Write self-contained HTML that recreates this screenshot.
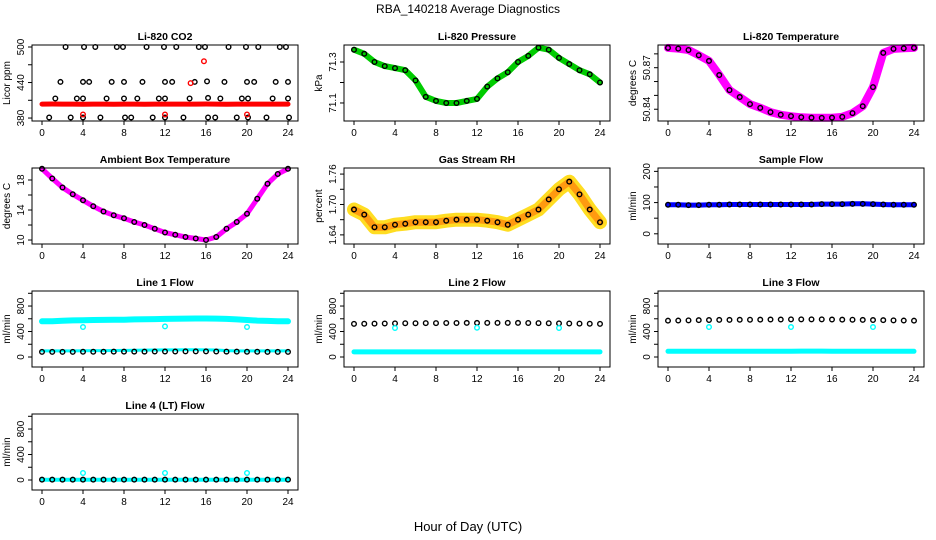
<!DOCTYPE html>
<html><head><meta charset="utf-8">
<style>
html,body{margin:0;padding:0;background:#fff;}
svg{display:block;font-family:"Liberation Sans",Arial,sans-serif;}
</style></head>
<body>
<svg id="c" width="936" height="540" viewBox="0 0 936 540">
<text x="468" y="13" font-size="12" text-anchor="middle">RBA_140218  Average Diagnostics</text>
<text x="468" y="531" font-size="13" text-anchor="middle">Hour of Day (UTC)</text>
</svg>
<script>
const hours=[0,1,2,3,4,5,6,7,8,9,10,11,12,13,14,15,16,17,18,19,20,21,22,23,24];
const xTicks=[0,4,8,12,16,20,24];
// CO2
const co2BandVals=[403.5,403.7,403.6,403.6,403.4,403.6,403.5,403.4,403.6,403.5,403.4,403.5,403.6,403.5,403.5,403.6,403.8,403.5,403.4,403.5,403.5,403.6,403.5,403.6,403.5];
const co2HiHours=[2.3,4.1,5.2,7.3,7.9,10.2,11.9,13.1,15.3,15.9,18.2,19.9,21.1,23.2,23.8];
const co2HiVals=[500,500,500,500,500,500,500,500,500,500,500,500,500,500,500];
const co2MidHours=[1.8,4.0,4.6,6.8,8.0,9.8,12.0,12.7,14.9,16.1,17.8,20.0,20.7,22.8,24.0];
const co2MidVals=[441,441,441,441,441,441,441,441,441,442,441,441,441,441,441];
const co2LowHours=[1.3,3.4,4.0,6.3,8.0,9.3,11.4,12.0,14.4,16.2,17.4,19.5,20.1,22.5,24.0];
const co2LowVals=[413,413,413,413,413,413,413,413,413,414,413,413,413,413,413];
const co2MinHours=[0.7,2.8,4.0,5.7,8.1,8.7,10.8,12.0,13.8,16.2,16.9,19.0,20.1,21.9,24.1];
const co2MinVals=[381,381,381,381,381,381,381,381,381,381,381,381,381,381,381];
const co2RedHours=[4,12,20,14.5,15.8];
const co2RedVals=[386,386,386,439,476];
// Pressure
const pressVals=[71.36,71.34,71.30,71.28,71.27,71.26,71.21,71.13,71.11,71.10,71.10,71.11,71.12,71.18,71.22,71.25,71.30,71.33,71.37,71.36,71.32,71.29,71.26,71.24,71.20];
// Li-820 temperature
const tempVals=[50.8843,50.8838,50.8828,50.879,50.8749,50.8647,50.8538,50.8488,50.8437,50.841,50.8379,50.836,50.835,50.8342,50.8339,50.8338,50.8339,50.8345,50.8372,50.8422,50.856,50.8807,50.8836,50.884,50.8843];
// Ambient box temperature
const ambVals=[19.5,18.2,17.0,16.1,15.3,14.5,13.8,13.3,12.9,12.4,12.0,11.5,11.0,10.7,10.4,10.2,10.0,10.4,11.5,12.4,13.5,15.5,17.5,18.8,19.5];
// Gas stream RH
const rhVals=[1.690,1.680,1.655,1.655,1.660,1.662,1.665,1.665,1.665,1.668,1.670,1.670,1.670,1.668,1.665,1.660,1.670,1.680,1.690,1.710,1.730,1.745,1.720,1.690,1.665];
// Sample flow
const sampleVals=[93,93,92,92,93,93,94,94,94,94,94,94,94,94,94,95,95,95,96,96,95,94,93,93,93];
// Line flows
const l1CyanVals=[560,562,570,575,578,580,582,584,586,590,592,595,598,600,602,604,604,602,598,590,580,572,566,562,560];
const l1BlackVals=[80,80,80,80,82,82,82,84,84,85,85,86,86,86,88,88,88,86,85,84,82,82,80,80,80];
const l1CyanLowVals=[95,95,95,95,98,100,100,102,104,106,108,110,112,112,114,114,112,110,100,95,95,95,95,95,95];
const l2BlackVals=[520,522,524,526,528,530,530,532,532,534,534,535,535,536,536,536,535,534,532,530,528,526,524,522,520];
const l2CyanVals=[80,80,80,80,80,80,80,80,80,80,80,80,80,80,80,80,80,80,80,80,80,80,80,80,80];
const l3BlackVals=[570,572,575,578,580,582,582,584,585,586,588,588,590,590,590,590,588,586,585,582,580,578,575,572,570];
const l3CyanVals=[90,90,90,90,90,90,90,90,90,90,90,90,90,92,92,92,90,90,90,90,90,90,90,90,90];
const l4BlackVals=[5,5,5,5,5,5,5,5,5,5,5,5,5,5,5,5,5,5,5,5,5,5,5,5,5];
const outlierHours=[4,12,20];
const l1OutVals=[470,480,470];
const l2OutVals=[455,460,455];
const l3OutVals=[470,470,470];
const l4OutVals=[110,110,110];

const NS="http://www.w3.org/2000/svg";
const svg=document.getElementById('c');
function mk(tag,attrs,parent){const e=document.createElementNS(NS,tag);for(const k in attrs)e.setAttribute(k,attrs[k]);(parent||svg).appendChild(e);return e;}

const colLeft=[32,344,658], boxW=266, rowTop=[45,168,291,414], boxH=76;

function panel(p){
  const L=colLeft[p.col], T=rowTop[p.row], B=T+boxH, R=L+boxW;
  const g=mk('g',{});
  
  
  const xs=h=>L+10+h*(boxW-20)/24;
  const ys=v=>B-(v-p.ymin)/(p.ymax-p.ymin)*boxH;
  const t=mk('text',{x:(L+R)/2,y:T-5,'font-size':10.5,'font-weight':'bold','text-anchor':'middle'},g);
  t.textContent=p.title;
  
  
  p.series.forEach(s=>{
    const sg=mk('g',{},g);
    
    
    if(s.band){
      const pts=s.x.map((h,i)=>xs(h).toFixed(1)+','+ys(s.y[i]).toFixed(1)).join(' ');
      const pl=mk('polyline',{points:pts,fill:'none',stroke:s.color,'stroke-width':s.band,'stroke-linejoin':'round','stroke-linecap':'round'},sg);
      
      
    }
    if(s.pts){
      s.x.forEach((h,i)=>{
        const c=mk('circle',{cx:xs(h),cy:ys(s.y[i]),r:2.3,fill:'none',stroke:s.pcolor||s.color,'stroke-width':1.4},sg);
        
        
      });
    }
  });
  mk('rect',{x:L,y:T,width:boxW,height:boxH,fill:'none',stroke:'#000','stroke-width':1},g);
  xTicks.forEach(h=>{
    mk('line',{x1:xs(h),y1:B,x2:xs(h),y2:B+4,stroke:'#000'},g);
    const tx=mk('text',{x:xs(h),y:B+15,'font-size':10,'text-anchor':'middle'},g);
    tx.textContent=h;
    
    
  });
  p.yticks.forEach(v=>{
    mk('line',{x1:L,y1:ys(v),x2:L-4,y2:ys(v),stroke:'#000'},g);
  });
  p.ylabels.forEach((v,i)=>{
    const y=ys(v);
    const tx=mk('text',{x:L-8,y:y,'font-size':10,'text-anchor':'middle',transform:'rotate(-90 '+(L-8)+' '+y+')'},g);
    tx.textContent=p.ylabelText[i];
    
    
  });
  const yl=mk('text',{x:L-22,y:(T+B)/2,'font-size':10,'text-anchor':'middle',transform:'rotate(-90 '+(L-22)+' '+((T+B)/2)+')'},g);
  yl.textContent=p.ylab;
  
  
}

const flowTicks=[0,200,400,600,800,1000];
const panels=[
 {name:'co2-panel',col:0,row:0,title:'Li-820 CO2',ylab:'Licor ppm',ymin:375,ymax:503.4,yticks:[380,410,440,470,500],ylabels:[380,440,500],ylabelText:['380','440','500'],
  series:[{name:'co2-band',x:hours,y:co2BandVals,band:5,color:'#ff0000'},
   {name:'co2-500',x:co2HiHours,y:co2HiVals,pts:1,color:'#000'},
   {name:'co2-440',x:co2MidHours,y:co2MidVals,pts:1,color:'#000'},
   {name:'co2-413',x:co2LowHours,y:co2LowVals,pts:1,color:'#000'},
   {name:'co2-380',x:co2MinHours,y:co2MinVals,pts:1,color:'#000'},
   {name:'co2-red-outliers',x:co2RedHours,y:co2RedVals,pts:1,color:'#ff0000'}]},
 {name:'pressure-panel',col:1,row:0,title:'Li-820 Pressure',ylab:'kPa',ymin:71.012,ymax:71.383,yticks:[71.1,71.2,71.3],ylabels:[71.1,71.3],ylabelText:['71.1','71.3'],
  series:[{name:'pressure-band',x:hours,y:pressVals,band:6,color:'#00cc00'},{name:'pressure-points',x:hours,y:pressVals,pts:1,color:'#000'}]},
 {name:'li820-temp-panel',col:2,row:0,title:'Li-820 Temperature',ylab:'degrees C',ymin:50.8315,ymax:50.8864,yticks:[50.84,50.85,50.86,50.87,50.88],ylabels:[50.84,50.87],ylabelText:['50.84','50.87'],
  series:[{name:'temp-band',x:hours,y:tempVals,band:8,color:'#ff00ff'},{name:'temp-points',x:hours,y:tempVals,pts:1,color:'#000'}]},
 {name:'ambient-temp-panel',col:0,row:1,title:'Ambient Box Temperature',ylab:'degrees C',ymin:9.47,ymax:19.6,yticks:[10,12,14,16,18],ylabels:[10,14,18],ylabelText:['10','14','18'],
  series:[{name:'ambient-band',x:hours,y:ambVals,band:5,color:'#ff00ff'},{name:'ambient-points',x:hours,y:ambVals,pts:1,color:'#000'}]},
 {name:'rh-panel',col:1,row:1,title:'Gas Stream RH',ylab:'percent',ymin:1.622,ymax:1.772,yticks:[1.64,1.67,1.70,1.73,1.76],ylabels:[1.64,1.70,1.76],ylabelText:['1.64','1.70','1.76'],
  series:[{name:'rh-band-yellow',x:hours,y:rhVals,band:14,color:'#ffdd22'},{name:'rh-band',x:hours,y:rhVals,band:7,color:'#ff9a10'},{name:'rh-points',x:hours,y:rhVals,pts:1,color:'#000'}]},
 {name:'sample-flow-panel',col:2,row:1,title:'Sample Flow',ylab:'ml/min',ymin:-32.7,ymax:210.8,yticks:[0,50,100,150,200],ylabels:[0,100,200],ylabelText:['0','100','200'],
  series:[{name:'sample-band',x:hours,y:sampleVals,band:5,color:'#0000ff'},{name:'sample-points',x:hours,y:sampleVals,pts:1,color:'#000'}]},
 {name:'line1-flow-panel',col:0,row:2,title:'Line 1 Flow',ylab:'ml/min',ymin:-157,ymax:1036,yticks:flowTicks,ylabels:[0,400,800],ylabelText:['0','400','800'],
  series:[{name:'line1-cyan-band',x:hours,y:l1CyanVals,band:6,color:'#00ffff'},{name:'line1-cyan-low',x:hours,y:l1CyanLowVals,band:3,color:'#00ffff'},{name:'line1-black',x:hours,y:l1BlackVals,pts:1,color:'#000'},{name:'line1-outliers',x:outlierHours,y:l1OutVals,pts:1,color:'#00ffff'}]},
 {name:'line2-flow-panel',col:1,row:2,title:'Line 2 Flow',ylab:'ml/min',ymin:-157,ymax:1036,yticks:flowTicks,ylabels:[0,400,800],ylabelText:['0','400','800'],
  series:[{name:'line2-cyan-band',x:hours,y:l2CyanVals,band:5,color:'#00ffff'},{name:'line2-black',x:hours,y:l2BlackVals,pts:1,color:'#000'},{name:'line2-outliers',x:outlierHours,y:l2OutVals,pts:1,color:'#00ffff'}]},
 {name:'line3-flow-panel',col:2,row:2,title:'Line 3 Flow',ylab:'ml/min',ymin:-157,ymax:1036,yticks:flowTicks,ylabels:[0,400,800],ylabelText:['0','400','800'],
  series:[{name:'line3-cyan-band',x:hours,y:l3CyanVals,band:5,color:'#00ffff'},{name:'line3-black',x:hours,y:l3BlackVals,pts:1,color:'#000'},{name:'line3-outliers',x:outlierHours,y:l3OutVals,pts:1,color:'#00ffff'}]},
 {name:'line4-flow-panel',col:0,row:3,title:'Line 4 (LT) Flow',ylab:'ml/min',ymin:-157,ymax:1036,yticks:flowTicks,ylabels:[0,400,800],ylabelText:['0','400','800'],
  series:[{name:'line4-cyan-band',x:hours,y:l4BlackVals,band:4,color:'#00ffff'},{name:'line4-black',x:hours,y:l4BlackVals,pts:1,color:'#000'},{name:'line4-outliers',x:outlierHours,y:l4OutVals,pts:1,color:'#00ffff'}]}
];
panels.forEach(panel);
</script>
</body></html>
